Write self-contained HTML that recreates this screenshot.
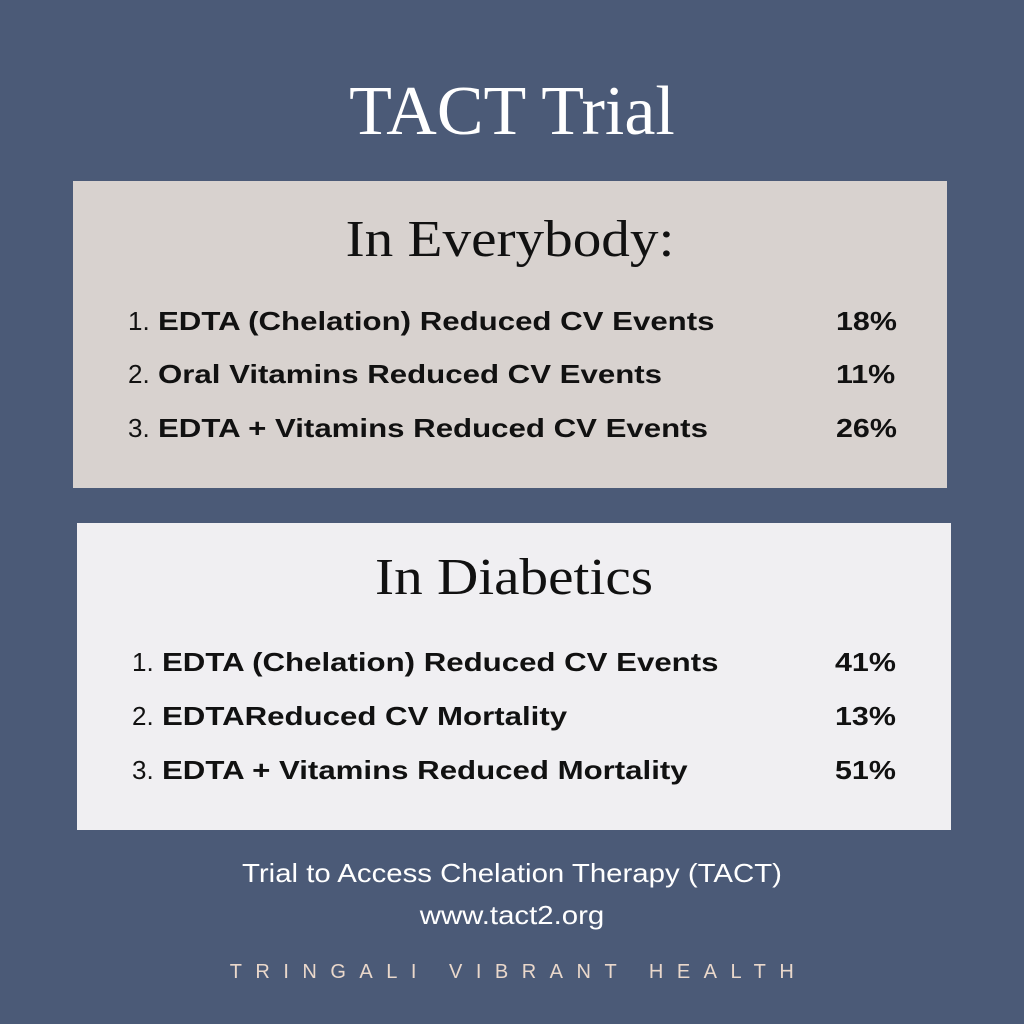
<!DOCTYPE html>
<html>
<head>
<meta charset="utf-8">
<style>
  html,body{margin:0;padding:0;}
  body{width:1024px;height:1024px;background:#4b5a77;position:relative;overflow:hidden;font-family:"Liberation Sans",sans-serif;}
  .abs{position:absolute;}
  .title{left:0;width:1024px;top:70px;text-align:center;font-family:"Liberation Serif",serif;font-size:70px;color:#fff;line-height:84px;}
  .box{position:absolute;}
  .box1{left:73px;top:181px;width:874px;height:307px;background:#d8d2cf;}
  .box2{left:77px;top:523px;width:874px;height:307px;background:#f0eff2;}
  .head{position:absolute;left:0;width:100%;text-align:center;font-family:"Liberation Serif",serif;font-size:52px;color:#111;line-height:60px;transform:scaleX(1.1);}
  .row{position:absolute;font-size:26px;color:#111;line-height:32px;white-space:nowrap;}
  .num{position:absolute;left:0;top:0;}
  .txt{position:absolute;left:30px;top:0;font-weight:bold;transform:scaleX(1.2);transform-origin:left center;}
  .pct{position:absolute;font-size:26px;font-weight:bold;color:#111;line-height:32px;transform:scaleX(1.17);transform-origin:left center;}
  .foot{left:0;width:1024px;text-align:center;color:#fff;font-size:26px;line-height:32px;transform:scaleX(1.13);}
  .brand{left:0;width:1024px;text-align:center;color:#ead8cb;font-size:20px;letter-spacing:13.5px;line-height:26px;padding-left:13px;box-sizing:border-box;}
</style>
</head>
<body>
<div class="abs title">TACT Trial</div>

<div class="box box1">
  <div class="head" style="top:29px">In Everybody:</div>
  <div class="row" style="left:55px;top:124px"><span class="num">1.</span><span class="txt">EDTA (Chelation) Reduced CV Events</span></div>
  <div class="pct" style="left:763px;top:124px">18%</div>
  <div class="row" style="left:55px;top:177px"><span class="num">2.</span><span class="txt">Oral Vitamins Reduced CV Events</span></div>
  <div class="pct" style="left:763px;top:177px">11%</div>
  <div class="row" style="left:55px;top:231px"><span class="num">3.</span><span class="txt">EDTA + Vitamins Reduced CV Events</span></div>
  <div class="pct" style="left:763px;top:231px">26%</div>
</div>

<div class="box box2">
  <div class="head" style="top:25px">In Diabetics</div>
  <div class="row" style="left:55px;top:123px"><span class="num">1.</span><span class="txt">EDTA (Chelation) Reduced CV Events</span></div>
  <div class="pct" style="left:758px;top:123px">41%</div>
  <div class="row" style="left:55px;top:177px"><span class="num">2.</span><span class="txt">EDTAReduced CV Mortality</span></div>
  <div class="pct" style="left:758px;top:177px">13%</div>
  <div class="row" style="left:55px;top:231px"><span class="num">3.</span><span class="txt">EDTA + Vitamins Reduced Mortality</span></div>
  <div class="pct" style="left:758px;top:231px">51%</div>
</div>

<div class="abs foot" style="top:857px">Trial to Access Chelation Therapy (TACT)</div>
<div class="abs foot" style="top:899px">www.tact2.org</div>
<div class="abs brand" style="top:959px">TRINGALI VIBRANT HEALTH</div>
</body>
</html>
